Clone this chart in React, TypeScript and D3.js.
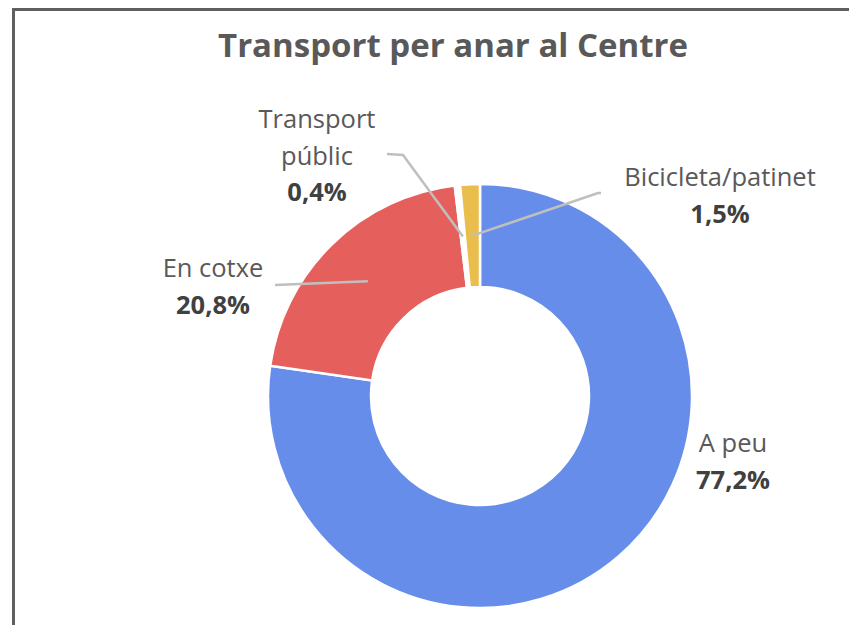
import React, { useEffect, useRef } from 'react';
import * as d3 from 'd3';

// chart data
const categories = ['A peu', 'En cotxe', 'Transport públic', 'Bicicleta/patinet'];
const shares = [77.2, 20.8, 0.4, 1.5];
const percentLabels = ['77,2%', '20,8%', '0,4%', '1,5%'];
const sliceColors = ['#678DEB', '#E5605C', '#FFFFFF', '#E9BE4C'];

const W = 849;
const H = 625;

// where each data label sits (lines of text, centred) and where its leader ends
const labelLayout = {
    'A peu': { x: 733, y: 452, lines: ['A peu'], leader: null },
    'En cotxe': { x: 213, y: 277, lines: ['En cotxe'], leader: [[275, 285]] },
    'Transport públic': { x: 317, y: 128, lines: ['Transport', 'públic'], leader: [[387, 154], [403, 155]] },
    'Bicicleta/patinet': { x: 720, y: 186, lines: ['Bicicleta/patinet'], leader: [[601, 193], [598, 193]] },
};

const App = () => {
    const ref = useRef<SVGSVGElement>(null);

    useEffect(() => {
        const svg = d3.select(ref.current);
        svg.selectAll('*').remove();

        // chart border (only top and left edges are inside the window)
        svg.append('rect')
            .attr('x', 13.5)
            .attr('y', 9.5)
            .attr('width', 900)
            .attr('height', 700)
            .attr('fill', '#fff')
            .attr('stroke', '#5F5F5F')
            .attr('stroke-width', 3);

        svg.append('text')
            .attr('x', 453)
            .attr('y', 57)
            .attr('text-anchor', 'middle')
            .attr('font-family', "'Open Sans', sans-serif")
            .attr('font-weight', 700)
            .attr('font-size', 33)
            .attr('fill', '#595959')
            .text('Transport per anar al Centre');

        const cx = 480;
        const cy = 396;
        const outerR = 212;
        const innerR = 109;

        const data = categories.map((c, i) => ({ name: c, value: shares[i], pct: percentLabels[i], color: sliceColors[i] }));

        const pie = d3.pie<any>().value(d => d.value).sort(null);
        const arc = d3.arc<any>().innerRadius(innerR).outerRadius(outerR);
        const arcs = pie(data);

        const g = svg.append('g').attr('transform', `translate(${cx},${cy})`);

        g.selectAll('path.slice')
            .data(arcs)
            .enter()
            .append('path')
            .attr('class', 'slice')
            .attr('d', arc)
            .attr('fill', d => d.data.color)
            .attr('stroke', '#fff')
            .attr('stroke-width', 2.5);

        // leader lines from slice centroid to label
        arcs.forEach(a => {
            const lay = labelLayout[a.data.name];
            if (!lay.leader) return;
            const [mx, my] = arc.centroid(a);
            const pts = [[cx + mx, cy + my], ...lay.leader.slice().reverse()];
            svg.append('path')
                .attr('d', d3.line()(pts as [number, number][]))
                .attr('fill', 'none')
                .attr('stroke', '#BFBFBF')
                .attr('stroke-width', 2.5);
        });

        // data labels
        const lineGap = 36.5;
        arcs.forEach(a => {
            const lay = labelLayout[a.data.name];
            const t = svg.append('text')
                .attr('text-anchor', 'middle')
                .attr('font-family', "'Open Sans', sans-serif")
                .attr('font-size', 25.5);
            lay.lines.forEach((ln, i) => {
                t.append('tspan')
                    .attr('x', lay.x)
                    .attr('y', lay.y + i * lineGap)
                    .attr('fill', '#595959')
                    .text(ln);
            });
            t.append('tspan')
                .attr('x', lay.x)
                .attr('y', lay.y + lay.lines.length * lineGap)
                .attr('font-weight', 700)
                .attr('fill', '#404040')
                .text(a.data.pct);
        });
    }, []);

    return (
        <div style={{ position: 'fixed', left: 0, top: 0, width: W, height: H, background: '#fff' }}>
            <svg ref={ref} width={W} height={H}></svg>
        </div>
    );
};

export default App;
